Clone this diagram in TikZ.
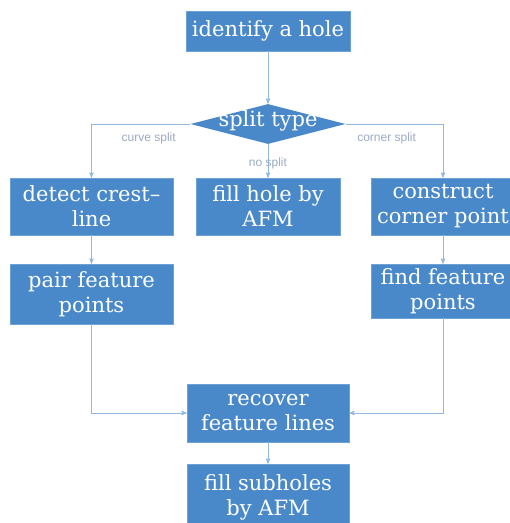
\documentclass[tikz,border=0pt]{standalone}
\usepackage{fontspec}
\setmainfont{DejaVu Serif}
\newfontfamily\labelfont{Liberation Sans}
\usepackage{tikz}
\usetikzlibrary{arrows,shapes.geometric,positioning}
\definecolor{boxblue}{HTML}{4A89C9}
\definecolor{lineblue}{HTML}{93B8DE}
\definecolor{labelgrey}{HTML}{9AAAC2}

\begin{document}
\begin{tikzpicture}[>=stealth',semithick,node distance=90pt,
    box/.style={rectangle,fill=boxblue,draw=boxblue!80!white,line width=0.6pt,text=white,
        font=\fontsize{21}{25}\selectfont,align=center,inner sep=0pt},
    decision/.style={diamond,fill=boxblue,text=white,font=\fontsize{21}{25}\selectfont,
        inner sep=0pt,shape aspect=3.875,text height=10pt,text depth=4.5pt,
        minimum width=155pt,minimum height=40pt},
    flow/.style={->,draw=lineblue,line width=0.9pt},
    branch/.style={font=\labelfont\fontsize{12}{14}\selectfont,text=labelgrey,inner sep=1pt}]
            \useasboundingbox (0,0) rectangle (510pt,-523pt);

            \node [box,minimum width=164pt,minimum height=40pt] (identify) at (268pt,-31pt) {identify a hole};
            \node [decision]  (split)    [below of=identify,node distance=93pt] {split type};
            \node [box,minimum width=144pt,minimum height=57pt] (fill)      [below of=split,node distance=82.5pt] {fill hole by\\AFM};
            \node [box,minimum width=163pt,minimum height=57pt] (detect)    [left of=fill,node distance=176.5pt]  {detect crest--\\line};
            \node [box,minimum width=144pt,minimum height=57pt] (construct) [right of=fill,node distance=175pt]   {construct\\corner point};
            \node [box,minimum width=163pt,minimum height=60pt] (pair)      [below of=detect,node distance=87.5pt] {pair feature\\points};
            \node [box,minimum width=144pt,minimum height=54pt] (find)      [below of=construct,node distance=84.5pt] {find feature\\points};
            \node [box,minimum width=162pt,minimum height=58pt] (recover)   [below of=fill,node distance=206.5pt]  {recover\\feature lines};
            \node [box,minimum width=162pt,minimum height=66pt] (subholes)  [below of=recover,node distance=84pt]  {fill subholes\\by AFM};

            \path   (identify) edge [flow] (split)
            (split) edge [flow] node [branch,yshift=-2pt] (nosplit) {no split} (fill)
            (detect) edge [flow] (pair)
            (construct) edge [flow] (find)
            (recover) edge [flow] (subholes);
            \draw [flow] (split.west) -| node [branch,pos=0.21,below=7pt] (curve) {curve split} (detect);
            \draw [flow] (split.east) -| node [branch,pos=0.21,below=7pt] (corner) {corner split} (construct);
            \draw [flow] (pair) |- (recover);
            \draw [flow] (find) |- (recover);
        \end{tikzpicture}
\end{document}
